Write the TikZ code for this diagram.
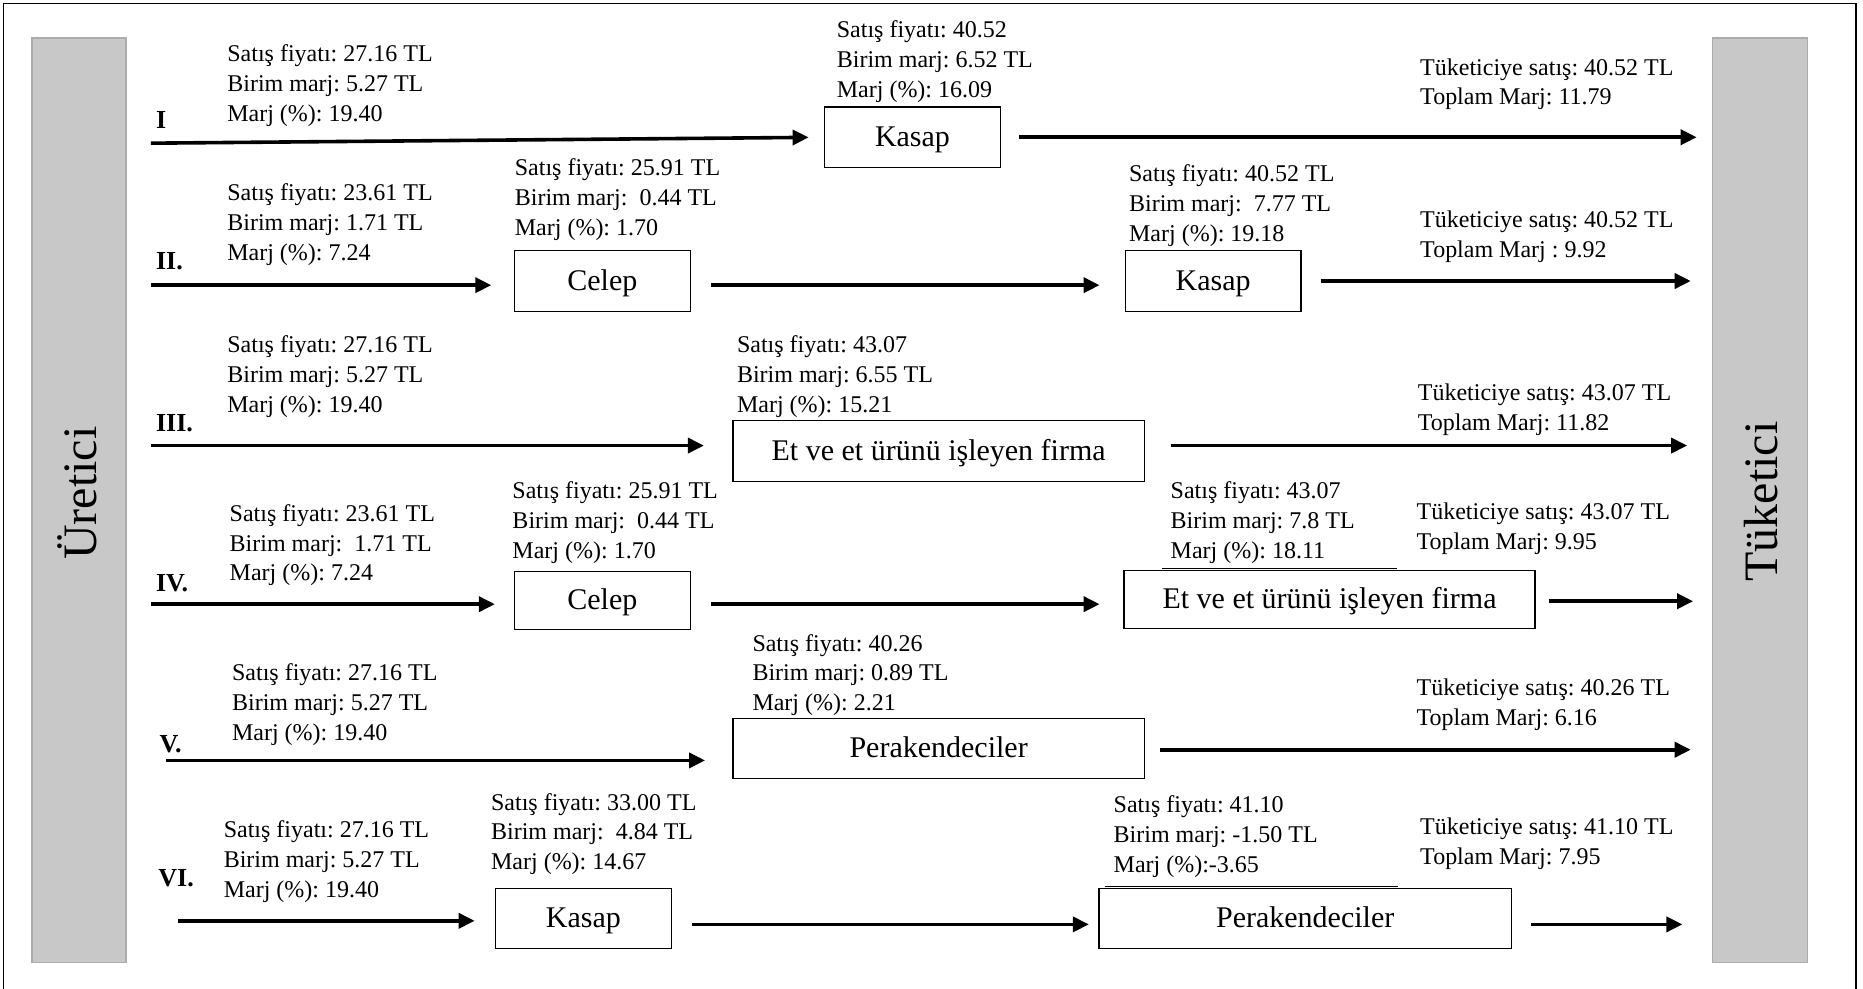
\documentclass[tikz,border=0pt]{standalone}
\usepackage{fontspec}
\setmainfont{Liberation Serif}
\usetikzlibrary{arrows.meta}
\definecolor{barfill}{RGB}{200,200,200}
\definecolor{baredge}{RGB}{172,172,172}
\frenchspacing

\begin{document}
\begin{tikzpicture}[x=0.5941pt,y=-0.5941pt,
  info/.style={anchor=west, align=left, inner sep=0pt,
    font=\fontsize{12}{14.85}\selectfont},
  stage/.style={draw, line width=0.6pt, inner sep=0pt,
    text height=0.92em, text depth=0pt,
    font=\fontsize{15}{18}\selectfont},
  small stage/.style={stage, minimum width=148*0.5941pt, minimum height=50*0.5941pt},
  wide stage/.style={stage, minimum width=346*0.5941pt, minimum height=50*0.5941pt},
  flow/.style={line width=1.8pt, -{Triangle[length=8pt,width=7.5pt]}},
  roman/.style={anchor=west, inner sep=0pt,
    font=\fontsize{13}{15}\selectfont\bfseries},
  endbar/.style={fill=barfill, draw=baredge, line width=0.6pt},
  endlabel/.style={rotate=90, inner sep=0pt, font=\fontsize{24}{28}\selectfont},
  edgeline/.style={line width=0.4pt}
]
\useasboundingbox (0,0) rectangle (1568,832);
\fill[white] (0,0) rectangle (1568,832);

% outer frame
\draw[line width=0.9pt] (3,845) -- (3,3) -- (1562,3) -- (1562,845);

% producer and consumer bars
\draw[endbar] (27,32) rectangle (106,810);
\draw[endbar] (1441,32) rectangle (1521,810);
\node[endlabel] (prodlbl) at (65,415) {Üretici};
\node[endlabel] (conslbl) at (1482,422) {Tüketici};

% channel numbers
\node[roman] (r1) at (131,101) {I};
\node[roman] (r2) at (131,220) {II.};
\node[roman] (r3) at (131,356) {III.};
\node[roman] (r4) at (131,491) {IV.};
\node[roman] (r5) at (134,626) {V.};
\node[roman] (r6) at (133,739) {VI.};

% ---------------- channel I ----------------
\node[small stage, minimum height=51*0.5941pt] (k1) at (768,115.5) {Kasap};
\node[info] (i1a) at (191,72) {Satış fiyatı: 27.16 TL\\Birim marj: 5.27 TL\\Marj (\%): 19.40};
\node[info] (i1b) at (704,52) {Satış fiyatı: 40.52\\Birim marj: 6.52 TL\\Marj (\%): 16.09};
\node[info] (i1c) at (1195,71) {Tüketiciye satış: 40.52 TL\\Toplam Marj: 11.79};
\coordinate (s1) at (127,120.5);
\coordinate (c1) at (1428,115.5);
\draw[flow, shorten >=7.7pt] (s1) -- (k1.west);
\draw[flow, shorten <=8.9pt] (k1.east) -- (c1);

% ---------------- channel II ----------------
\node[small stage, minimum height=51*0.5941pt] (ce2) at (507,236.5) {Celep};
\node[small stage, minimum height=51*0.5941pt] (ka2) at (1021,236.5) {Kasap};
\node[info] (i2a) at (191,189) {Satış fiyatı: 23.61 TL\\Birim marj: 1.71 TL\\Marj (\%): 7.24};
\node[info] (i2b) at (433,168) {Satış fiyatı: 25.91 TL\\Birim marj:\ \ 0.44 TL\\Marj (\%): 1.70};
\node[info] (i2c) at (950,173) {Satış fiyatı: 40.52 TL\\Birim marj:\ \ 7.77 TL\\Marj (\%): 19.18};
\node[info] (i2d) at (1195,199) {Tüketiciye satış: 40.52 TL\\Toplam Marj : 9.92};
\coordinate (s2) at (127,240);
\coordinate (c2) at (1423,236.5);
\draw[flow, shorten >=11.3pt] (s2) -- (s2 -| ce2.west);
\draw[flow, shorten <=10.1pt, shorten >=12.5pt] (ce2.east |- s2) -- (ka2.west |- s2);
\draw[flow, shorten <=9.5pt] (ka2.east) -- (c2);

% ---------------- channel III ----------------
\node[wide stage, minimum height=51*0.5941pt] (et3) at (790,379.5) {Et ve et ürünü işleyen firma};
\node[info] (i3a) at (191,317) {Satış fiyatı: 27.16 TL\\Birim marj: 5.27 TL\\Marj (\%): 19.40};
\node[info] (i3b) at (620,317) {Satış fiyatı: 43.07\\Birim marj: 6.55 TL\\Marj (\%): 15.21};
\node[info] (i3c) at (1193,345) {Tüketiciye satış: 43.07 TL\\Toplam Marj: 11.82};
\coordinate (s3) at (127,375);
\coordinate (c3) at (1420,375);
\draw[flow, shorten >=14.3pt] (s3) -- (s3 -| et3.west);
\draw[flow, shorten <=13.1pt] (et3.east |- s3) -- (c3);

% ---------------- channel IV ----------------
\node[small stage, minimum height=49*0.5941pt] (ce4) at (507,505.5) {Celep};
\node[wide stage, minimum height=49*0.5941pt] (et4) at (1119,504.5) {Et ve et ürünü işleyen firma};
\draw[edgeline] (978,478.3) -- (1176,478.3);
\node[info] (i4a) at (193,459) {Satış fiyatı: 23.61 TL\\Birim marj:\ \ 1.71 TL\\Marj (\%): 7.24};
\node[info] (i4b) at (431,440) {Satış fiyatı: 25.91 TL\\Birim marj:\ \ 0.44 TL\\Marj (\%): 1.70};
\node[info] (i4c) at (985,440) {Satış fiyatı: 43.07\\Birim marj: 7.8 TL\\Marj (\%): 18.11};
\node[info] (i4d) at (1192,445) {Tüketiciye satış: 43.07 TL\\Toplam Marj: 9.95};
\coordinate (s4) at (127,508.5);
\coordinate (c4) at (1425,506);
\draw[flow, shorten >=9.5pt] (s4) -- (s4 -| ce4.west);
\draw[flow, shorten <=10.1pt, shorten >=11.9pt] (ce4.east |- s4) -- (et4.west |- s4);
\draw[flow, shorten <=6.5pt] (et4.east |- c4) -- (c4);

% ---------------- channel V ----------------
\node[wide stage] (pe5) at (790,630) {Perakendeciler};
\node[info] (i5a) at (195,593) {Satış fiyatı: 27.16 TL\\Birim marj: 5.27 TL\\Marj (\%): 19.40};
\node[info] (i5b) at (633,568) {Satış fiyatı: 40.26\\Birim marj: 0.89 TL\\Marj (\%): 2.21};
\node[info] (i5c) at (1192,593) {Tüketiciye satış: 40.26 TL\\Toplam Marj: 6.16};
\coordinate (s5) at (140,640);
\coordinate (c5) at (1423,631);
\draw[flow, shorten >=13.7pt] (s5) -- (s5 -| pe5.west);
\draw[flow, shorten <=7.7pt] (pe5.east |- c5) -- (c5);

% ---------------- channel VI ----------------
\node[small stage] (ka6) at (491,773) {Kasap};
\node[wide stage, minimum width=347*0.5941pt] (pe6) at (1098.5,773) {Perakendeciler};
\draw[edgeline] (930,746.3) -- (1177,746.3);
\node[info] (i6a) at (188,725) {Satış fiyatı: 27.16 TL\\Birim marj: 5.27 TL\\Marj (\%): 19.40};
\node[info] (i6b) at (413,702) {Satış fiyatı: 33.00 TL\\Birim marj:\ \ 4.84 TL\\Marj (\%): 14.67};
\node[info] (i6c) at (937,704) {Satış fiyatı: 41.10\\Birim marj: -1.50 TL\\Marj (\%):-3.65};
\node[info] (i6d) at (1195,710) {Tüketiciye satış: 41.10 TL\\Toplam Marj: 7.95};
\coordinate (s6) at (150,775);
\coordinate (m6) at (150,778);
\coordinate (c6) at (1416,778);
\draw[flow, shorten >=10.1pt] (s6) -- (s6 -| ka6.west);
\draw[flow, shorten <=10.1pt, shorten >=4.8pt] (ka6.east |- m6) -- (pe6.west |- m6);
\draw[flow, shorten <=9.5pt] (pe6.east |- c6) -- (c6);
\end{tikzpicture}
\end{document}
